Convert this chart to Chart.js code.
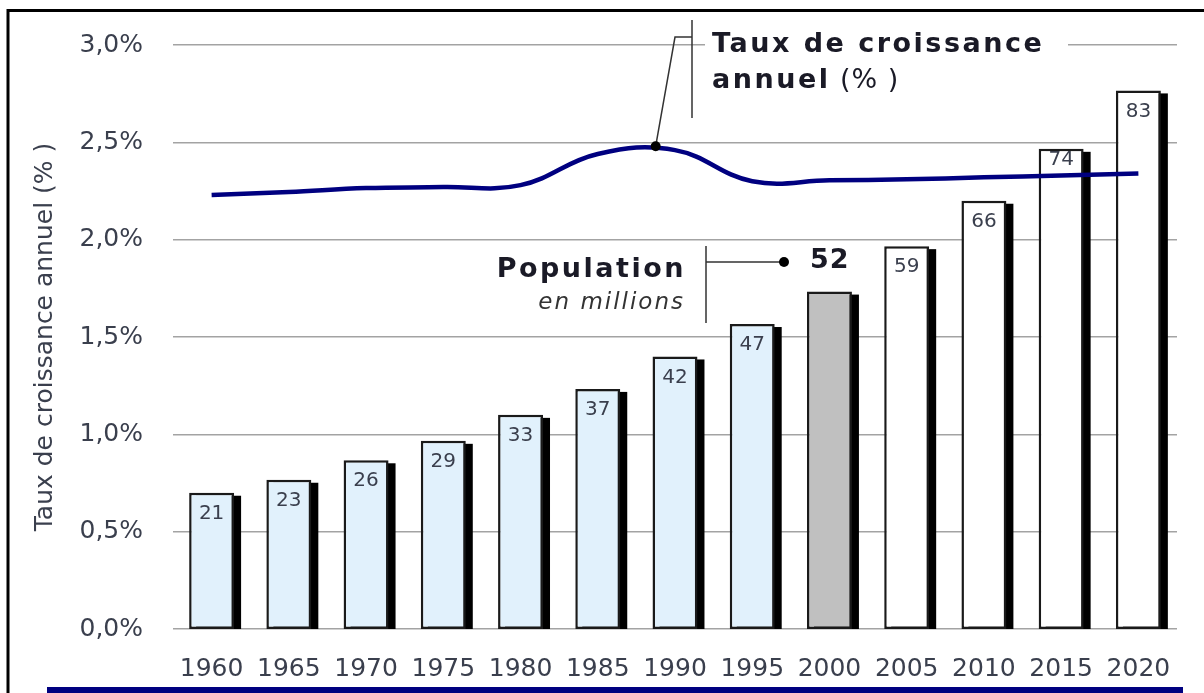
<!DOCTYPE html>
<html lang="fr">
<head>
<meta charset="utf-8">
<title>Population et taux de croissance annuel</title>
<script src="https://cdn.jsdelivr.net/npm/chart.js@4.4.1/dist/chart.umd.min.js"></script>
<style>
  body { margin: 0; background: #fff; }
  #wrap { width: 1204px; height: 693px; }
</style>
</head>
<body>
<div id="wrap"><canvas id="popChart" width="1204" height="693"></canvas></div>
<script>
const years = ["1960", "1965", "1970", "1975", "1980", "1985", "1990", "1995", "2000", "2005", "2010", "2015", "2020"];
const population = [21, 23, 26, 29, 33, 37, 42, 47, 52, 59, 66, 74, 83];
const growthRate = [2.23, 2.245, 2.265, 2.27, 2.28, 2.44, 2.46, 2.3, 2.305, 2.31, 2.32, 2.33, 2.34];
const rateTicks = [0, 0.5, 1, 1.5, 2, 2.5, 3];
const highlightYear = "2000";

const FONT = "'DejaVu Sans', sans-serif";
const TEXT = "#3a3f4d";
Chart.defaults.font.family = FONT;

const hi = years.indexOf(highlightYear);
const barFill = years.map((_, i) => (i < hi ? "#e1f1fc" : i === hi ? "#c0c0c0" : "#ffffff"));

// black drop shadow on the right of every bar
const barShadow = {
  id: "barShadow",
  beforeDatasetDraw(chart, args) {
    if (args.meta.type !== "bar") return;
    const ctx = chart.ctx;
    ctx.save();
    ctx.fillStyle = "#000";
    args.meta.data.forEach((bar) => {
      const p = bar.getProps(["x", "y", "base", "width"], true);
      ctx.fillRect(p.x - p.width / 2 + 7, p.y + 3, p.width, p.base - p.y - 3);
    });
    ctx.restore();
  },
};

const barLabels = {
  id: "barLabels",
  afterDatasetsDraw(chart) {
    const meta = chart.getDatasetMeta(1);
    const line = chart.getDatasetMeta(0).data;
    const ctx = chart.ctx;
    ctx.save();
    ctx.font = "20px " + FONT;
    ctx.fillStyle = TEXT;
    ctx.textAlign = "center";
    ctx.textBaseline = "middle";
    meta.data.forEach((bar, i) => {
      if (i === hi) return;
      let ty = bar.y + 21;
      // keep the number clear of the growth line
      if (Math.abs(line[i].y - ty) < 14) ty = bar.y + 11;
      ctx.fillText(String(population[i]), bar.x, ty);
    });
    ctx.restore();
  },
};

const notes = {
  id: "notes",
  afterDraw(chart) {
    const { ctx } = chart;
    const x = chart.scales.x;
    const y = chart.scales.y;
    ctx.save();

    // frame + bottom band
    ctx.strokeStyle = "#000";
    ctx.lineWidth = 3;
    ctx.beginPath();
    ctx.moveTo(8, 693);
    ctx.lineTo(8, 10.5);
    ctx.lineTo(1204, 10.5);
    ctx.stroke();
    ctx.fillStyle = "#000080";
    ctx.fillRect(47, 687, 1136, 6);

    // growth rate callout
    const dotX = x.getPixelForValue(5.75);
    const dotY = y.getPixelForValue(2.48);
    ctx.fillStyle = "#fff";
    ctx.fillRect(705, 28, 363, 30);
    ctx.strokeStyle = "#333";
    ctx.lineWidth = 1.5;
    ctx.beginPath();
    ctx.moveTo(692, 20);
    ctx.lineTo(692, 118);
    ctx.moveTo(692, 37);
    ctx.lineTo(675, 37);
    ctx.lineTo(dotX, dotY);
    ctx.stroke();
    ctx.fillStyle = "#000";
    ctx.beginPath();
    ctx.arc(dotX, dotY, 5, 0, Math.PI * 2);
    ctx.fill();

    ctx.fillStyle = "#1a1a26";
    ctx.textAlign = "left";
    ctx.textBaseline = "alphabetic";
    ctx.letterSpacing = "2.5px";
    ctx.font = "bold 27px " + FONT;
    ctx.fillText("Taux de croissance", 712, 52);
    ctx.fillText("annuel", 712, 88);
    const w = ctx.measureText("annuel").width;
    ctx.letterSpacing = "1px";
    ctx.font = "27px " + FONT;
    ctx.fillText(" (% )", 712 + w, 88);

    // population callout
    ctx.strokeStyle = "#333";
    ctx.beginPath();
    ctx.moveTo(706, 246);
    ctx.lineTo(706, 323);
    ctx.moveTo(706, 262);
    ctx.lineTo(784, 262);
    ctx.stroke();
    ctx.fillStyle = "#000";
    ctx.beginPath();
    ctx.arc(784, 262, 5, 0, Math.PI * 2);
    ctx.fill();

    ctx.fillStyle = "#1a1a26";
    ctx.letterSpacing = "2.5px";
    ctx.font = "bold 27px " + FONT;
    ctx.textAlign = "right";
    ctx.fillText("Population", 686, 277);
    ctx.letterSpacing = "1px";
    ctx.textAlign = "left";
    ctx.fillText(String(population[hi]), 810, 268);
    ctx.letterSpacing = "2px";
    ctx.font = "italic 23px " + FONT;
    ctx.fillStyle = "#333";
    ctx.textAlign = "right";
    ctx.fillText("en millions", 685, 309);
    ctx.restore();
  },
};

new Chart(document.getElementById("popChart"), {
  data: {
    labels: years,
    datasets: [
      {
        type: "line",
        label: "Taux de croissance annuel (%)",
        data: growthRate,
        yAxisID: "y",
        borderColor: "#000080",
        borderWidth: 4.5,
        tension: 0.4,
        pointRadius: 0,
        order: 0,
      },
      {
        type: "bar",
        label: "Population en millions",
        data: population,
        yAxisID: "y2",
        backgroundColor: barFill,
        borderColor: "#1a1a1a",
        borderWidth: 2.5,
        borderSkipped: false,
        categoryPercentage: 1,
        barPercentage: 0.582,
        order: 1,
      },
    ],
  },
  options: {
    responsive: false,
    animation: false,
    layout: { padding: { left: 0, right: 27, top: 45, bottom: 0 } },
    plugins: {
      legend: { display: false },
      tooltip: { enabled: false },
    },
    scales: {
      x: {
        grid: { display: false },
        border: { display: false },
        ticks: { color: TEXT, font: { size: 25 }, padding: 17, maxRotation: 0 },
        afterFit: (s) => { s.height = 64; },
      },
      y: {
        min: 0,
        max: 3,
        afterBuildTicks: (s) => { s.ticks = rateTicks.map((v) => ({ value: v })); },
        grid: { color: "#a3a3a3", lineWidth: 1.5, drawTicks: false },
        border: { display: false },
        ticks: {
          color: TEXT,
          font: { size: 25 },
          padding: 30,
          callback: (v) => v.toFixed(1).replace(".", ",") + "%",
        },
        title: {
          display: true,
          text: "Taux de croissance annuel (% )",
          color: TEXT,
          font: { size: 25 },
          padding: { top: 30, bottom: 0 },
        },
        afterFit: (s) => { s.width = 173; },
      },
      y2: {
        display: false,
        min: 0,
        max: 90,
      },
    },
  },
  plugins: [barShadow, barLabels, notes],
});
</script>
</body>
</html>
